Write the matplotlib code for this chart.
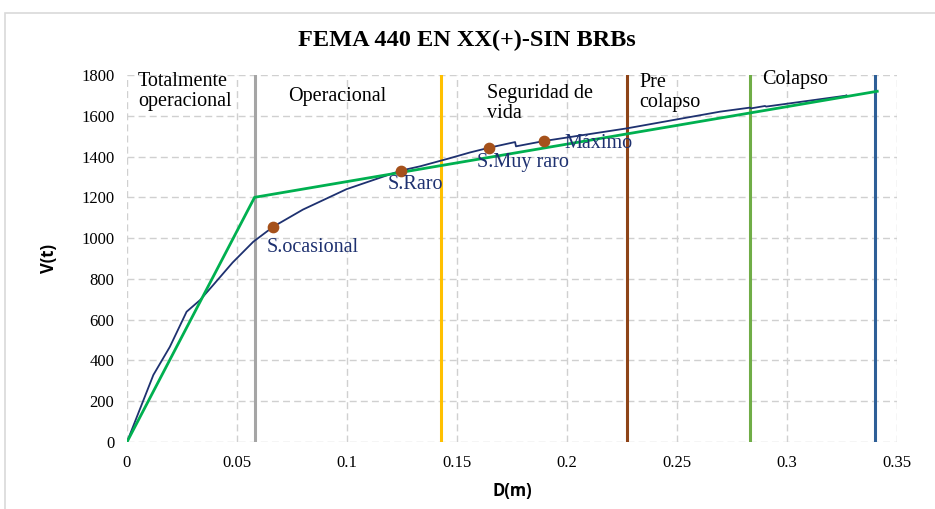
"""
FEMA 440 pushover chart (XX+, no BRBs): capacity curve, bilinear fit,
performance points and performance-level limits.
"""

import matplotlib
matplotlib.use("Agg")
import matplotlib.pyplot as plt
from matplotlib.patches import Rectangle

# ---------------------------------------------------------------------------
# Data
# ---------------------------------------------------------------------------
curve_d = [0, 0.012, 0.0195, 0.0271, 0.0332, 0.0392, 0.048, 0.0574, 0.0665,
           0.08, 0.0998, 0.1245, 0.1332, 0.1468, 0.1559, 0.1645, 0.1764,
           0.1768, 0.1895, 0.2271, 0.2695, 0.2832, 0.2835,
           0.29, 0.2905, 0.3264, 0.327]
curve_v = [0, 329, 467, 639, 696, 770, 880, 982, 1056,
           1140, 1240, 1331, 1352, 1392, 1420, 1443, 1471,
           1450, 1476, 1538, 1620, 1640, 1636,
           1648, 1645, 1698, 1700]

bilinear_d = [0, 0.058, 0.341]
bilinear_v = [0, 1200, 1720]

point_names = ["S.ocasional", "S.Raro", "S.Muy raro", "Máximo"]
point_d = [0.0665, 0.1245, 0.1645, 0.1895]
point_v = [1056, 1331, 1443, 1476]

limit_d = [0.0582, 0.1427, 0.2273, 0.2832, 0.340]
limit_colors = ["#A5A5A5", "#FFC000", "#8E4418", "#70AD47", "#2E5F97"]

zone_names = ["Totalmente\noperacional", "Operacional", "Seguridad de\nvida",
              "Pre\ncolapso", "Colapso"]

x_ticks = [0, 0.05, 0.1, 0.15, 0.2, 0.25, 0.3, 0.35]
x_labels = ["0", "0.05", "0.1", "0.15", "0.2", "0.25", "0.3", "0.35"]
y_ticks = [0, 200, 400, 600, 800, 1000, 1200, 1400, 1600, 1800]

SERIF = "Liberation Serif"
NAVY = "#1E3170"

fig = plt.figure(figsize=(9.35, 5.09), dpi=100)
ax = fig.add_axes([0.1358, 0.1316, 0.8236, 0.7211])

# light frame round the chart area (Excel style)
fig.patches.append(Rectangle((5 / 935, -0.02), 1.0, 0.9945, transform=fig.transFigure,
                             fill=False, edgecolor="#D9D9D9", lw=1.2))

# performance level limits
for d, c in zip(limit_d, limit_colors):
    ax.axvline(d, color=c, lw=2.2, zorder=2)

ax.plot(curve_d, curve_v, color=NAVY, lw=1.3, zorder=3)
ax.plot(bilinear_d, bilinear_v, color="#00B050", lw=2.0, zorder=4)
ax.scatter(point_d, point_v, s=55, color="#A5511B", zorder=5)

# point labels
label_pos = [(0.0636, 956), (0.1186, 1265), (0.159, 1373), (0.199, 1466)]
for name, (x, y) in zip(point_names, label_pos):
    ax.text(x, y, name, color=NAVY, fontsize=14.5, family=SERIF,
            ha="left", va="center", zorder=6)

# zone labels
zone_pos = [(0.005, 1815), (0.0732, 1740), (0.1636, 1755), (0.233, 1810), (0.2886, 1825)]
for name, (x, y) in zip(zone_names, zone_pos):
    ax.text(x, y, name, color="black", fontsize=14.5, family=SERIF,
            ha="left", va="top", linespacing=1.05, zorder=6)

ax.set_xlim(0, 0.35)
ax.set_ylim(0, 1800)
ax.set_xticks(x_ticks)
ax.set_xticklabels(x_labels)
ax.set_yticks(y_ticks)
for lab in ax.get_xticklabels() + ax.get_yticklabels():
    lab.set_fontfamily(SERIF)
    lab.set_fontsize(12)
ax.tick_params(length=0, pad=9)

ax.grid(True, color="#D0D0D0", lw=1.0, linestyle=(0, (5, 3)))
ax.set_axisbelow(True)
for s in ax.spines.values():
    s.set_visible(False)

ax.set_xlabel("D(m)", fontsize=12, fontweight="bold", family="Open Sans", labelpad=8)
ax.set_ylabel("V(t)", fontsize=12, fontweight="bold", family="Open Sans", labelpad=17)

fig.text(0.4995, 0.921, "FEMA 440 EN XX(+)-SIN BRBs", ha="center", va="center",
         fontsize=17.5, fontweight="bold", family=SERIF)

fig.savefig("out.png", dpi=100)
